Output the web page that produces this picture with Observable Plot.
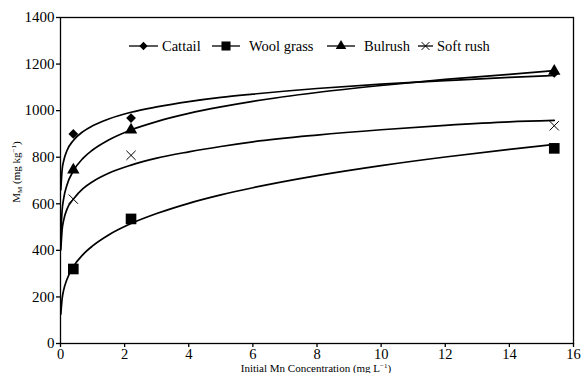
<!DOCTYPE html>
<html>
<head>
<meta charset="utf-8">
<script src="https://cdn.jsdelivr.net/npm/d3@7"></script>
<script src="https://cdn.jsdelivr.net/npm/@observablehq/plot@0.6"></script>
<style>
  html, body { margin: 0; padding: 0; background: white; }
  svg, svg text { font-family: "Liberation Serif", "DejaVu Serif", serif; }
</style>
</head>
<body>
<div id="chart"></div>
<script>
// ---- data ----
const seriesNames = ["Cattail", "Wool grass", "Bulrush", "Soft rush"];
const seriesSymbols = ["diamond2", "square", "triangle", "times"];
const measuredX = [0.4, 2.2, 15.4];
const cattailPts = [900, 968, 1162];
const woolPts = [320, 535, 838];
const bulrushPts = [745, 917, 1170];
const softPts = [620, 808, 935];

// fitted curves as drawn
const curveX = [0.01, 0.05, 0.1, 0.2, 0.4, 0.7, 1, 1.5, 2.2, 3, 4, 5, 6, 8, 10, 12, 14, 15.4];
const cattailCurve = [659, 745, 785, 828, 872, 910, 935, 964, 993, 1016, 1039, 1057, 1071, 1095, 1114, 1129, 1143, 1151];
const woolCurve = [126, 192, 230, 275, 330, 382, 419, 466, 515, 558, 602, 638, 669, 721, 764, 801, 834, 855];
const bulrushCurve = [467, 571, 623, 680, 741, 795, 831, 874, 917, 953, 988, 1016, 1040, 1078, 1108, 1134, 1156, 1172];
const softCurve = [402, 488, 530, 576, 620, 665, 695, 731, 766, 796, 823, 846, 866, 895, 918, 937, 952, 958];

const xTicks = [0, 2, 4, 6, 8, 10, 12, 14, 16];
const yTicks = [0, 200, 400, 600, 800, 1000, 1200, 1400];

// ---- build tables ----
const ptsBySeries = [cattailPts, woolPts, bulrushPts, softPts];
const curvesBySeries = [cattailCurve, woolCurve, bulrushCurve, softCurve];
const points = [];
ptsBySeries.forEach((arr, s) => arr.forEach((v, i) => points.push({series: seriesNames[s], x: measuredX[i], y: v, symbol: seriesSymbols[s]})));
const curves = [];
curvesBySeries.forEach((arr, s) => arr.forEach((v, i) => curves.push({series: seriesNames[s], x: curveX[i], y: v})));

const symSize = {diamond2: 4.4, square: 6.0, triangle: 4.6, times: 4.3};
const serif = '"Liberation Serif", "DejaVu Serif", serif';

const chart = Plot.plot({
  width: 582,
  height: 373,
  marginLeft: 60,
  marginRight: 9,
  marginTop: 17,
  marginBottom: 30,
  x: {domain: [0, 16]},
  y: {domain: [0, 1400]},
  marks: [
    Plot.axisX({ticks: xTicks, tickSize: 4, tickPadding: 1, tickFormat: d => String(d), label: null, stroke: "black", strokeWidth: 1.3, fontSize: 14.5, fill: "black"}),
    Plot.axisY({ticks: yTicks, tickSize: 4, tickPadding: 2, tickFormat: d => String(d), label: null, stroke: "black", strokeWidth: 1.3, fontSize: 15, fill: "black"}),
    Plot.line(curves, {x: "x", y: "y", z: "series", curve: "monotone-x", stroke: "black", strokeWidth: 1.7}),
    ...seriesSymbols.map(sym => Plot.dot(points.filter(d => d.symbol === sym), {
      x: "x", y: "y", symbol: () => sym, r: symSize[sym],
      fill: sym === "times" ? "none" : "black",
      stroke: "black",
      strokeWidth: sym === "times" ? 1 : 0
    })),
    Plot.frame({stroke: "black", strokeWidth: 1.3})
  ]
});

document.getElementById("chart").appendChild(chart);

const svg = d3.select(chart);
svg.attr("font-family", serif).style("font-family", serif).attr("font-size", 15).style("font-size", "15px");

// x title
const xt = svg.append("text")
  .attr("x", 316).attr("y", 371.5)
  .attr("text-anchor", "middle")
  .attr("font-family", serif).attr("font-size", 11).attr("fill", "black");
xt.append("tspan").text("Initial Mn Concentration (mg L");
xt.append("tspan").attr("font-size", 7).attr("dy", -4).text("−1");
xt.append("tspan").attr("dy", 4).text(")");

// y title
const yt = svg.append("text")
  .attr("transform", "translate(20,172) rotate(-90)")
  .attr("text-anchor", "middle")
  .attr("font-family", serif).attr("font-size", 11).attr("fill", "black");
yt.append("tspan").text("M");
yt.append("tspan").attr("font-size", 7).attr("dy", 2).text("M");
yt.append("tspan").attr("dy", -2).text(" (mg kg");
yt.append("tspan").attr("font-size", 7).attr("dy", -4).text("−1");
yt.append("tspan").attr("dy", 4).text(")");

// legend
const legendItems = [
  {x1: 129, x2: 158, tx: 162},
  {x1: 212, x2: 240, tx: 249},
  {x1: 327, x2: 355, tx: 364},
  {x1: 418, x2: 433, tx: 437}
];
const d3Sym = {diamond2: d3.symbolDiamond2, square: d3.symbolSquare, triangle: d3.symbolTriangle, times: d3.symbolTimes};
const ly = 46;
const lg = svg.append("g");
legendItems.forEach((it, i) => {
  const sym = seriesSymbols[i];
  lg.append("line").attr("x1", it.x1).attr("x2", it.x2).attr("y1", ly).attr("y2", ly)
    .attr("stroke", "black").attr("stroke-width", 1.3);
  const r = symSize[sym] * 0.85;
  lg.append("path")
    .attr("transform", `translate(${(it.x1 + it.x2) / 2},${ly})`)
    .attr("d", d3.symbol(d3Sym[sym], Math.PI * r * r)())
    .attr("fill", sym === "times" ? "none" : "black")
    .attr("stroke", sym === "times" ? "black" : "none")
    .attr("stroke-width", 1);
  lg.append("text").attr("x", it.tx).attr("y", ly).attr("dy", "0.32em")
    .attr("text-anchor", "start")
    .attr("font-family", serif).attr("font-size", 14.5).attr("fill", "black")
    .text(seriesNames[i]);
});
</script>
</body>
</html>
